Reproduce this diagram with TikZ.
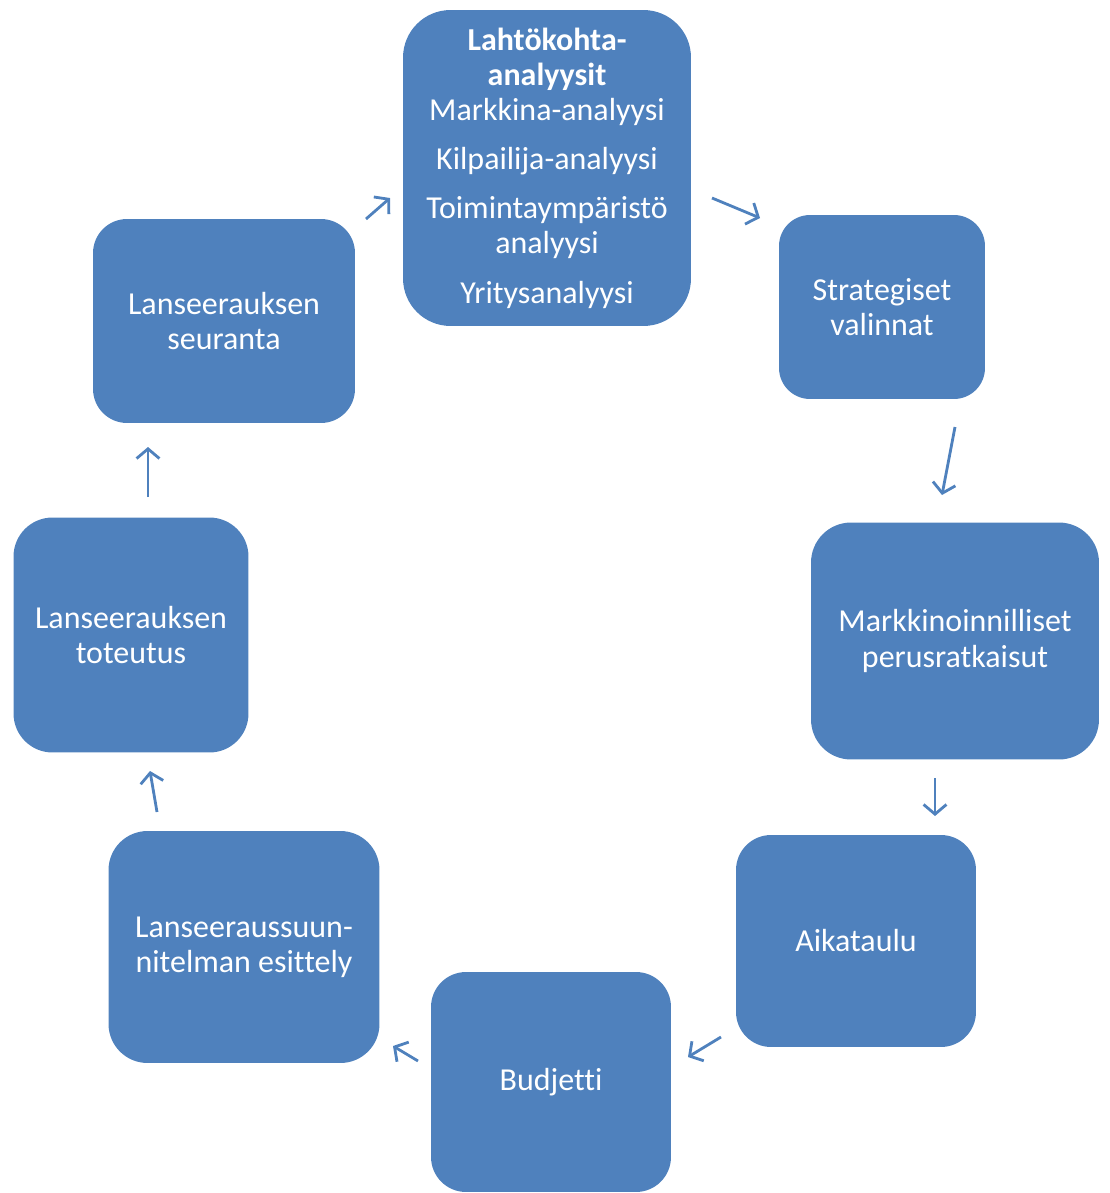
\documentclass[tikz,border=0pt]{standalone}
\usepackage{fontspec}
\setmainfont{Carlito}[Ligatures={NoCommon, NoRare}]
\definecolor{boxblue}{RGB}{79, 129, 189}
\definecolor{arrblue}{RGB}{79, 129, 189}
\usetikzlibrary{arrows.meta, positioning}

\begin{document}
\begin{tikzpicture}[x=0.02cm, y=-0.02cm,
  box/.style={fill=boxblue, draw=none, rounded corners=#1, text=white, align=center,
    inner sep=2pt, font=\fontsize{18.2pt}{20pt}\selectfont},
  box/.default=0.7cm,
  arr/.style={arrblue, line width=1.6pt, -{Straight Barb[length=5.5pt, width=13pt]}},
]
  \useasboundingbox (0, 0) rectangle (1109, 1193);

  % Boxes
  \node[box=0.95cm, minimum width=5.76cm, minimum height=6.32cm] (start) at (547, 168)
    {\textbf{Lahtökohta-}\\\textbf{analyysit}\\Markkina-analyysi\\[8pt]Kilpailija-analyysi\\[8pt]Toimintaympäristö\\analyysi\\[8pt]Yritysanalyysi};
  \node[box=0.62cm, minimum width=4.12cm, minimum height=3.68cm] (strat) at (882, 307) {Strategiset\\valinnat};
  \node[box=0.8cm, minimum width=5.76cm, minimum height=4.74cm] (mark) at (955, 641) {Markkinoinnilliset\\perusratkaisut};
  \node[box, minimum width=4.80cm, minimum height=4.24cm] (aika) at (856, 941) {Aikataulu};
  \node[box, minimum width=4.80cm, minimum height=4.40cm] (budj) at (551, 1082) {Budjetti};
  \node[box=0.78cm, minimum width=5.42cm, minimum height=4.64cm] (esit) at (244, 947) {Lanseeraussuun-\\nitelman esittely};
  \node[box=0.78cm, minimum width=4.70cm, minimum height=4.70cm] (tot) at (131, 635) {Lanseerauksen\\toteutus};
  \node[box=0.68cm, minimum width=5.24cm, minimum height=4.08cm] (seur) at (224, 321) {Lanseerauksen\\seuranta};

  % Arrow ends
  \coordinate (a1s) at (712, 198);  \coordinate (a1e) at (760, 218);
  \coordinate (a2s) at (955, 427);  \coordinate (a2e) at (942, 495);
  \coordinate (a3s) at (935, 778);  \coordinate (a3e) at (935, 816);
  \coordinate (a4s) at (721, 1037); \coordinate (a4e) at (688, 1057);
  \coordinate (a5s) at (418, 1061); \coordinate (a5e) at (393, 1046);
  \coordinate (a6s) at (157, 812);  \coordinate (a6e) at (150, 771);
  \coordinate (a7s) at (148, 497);  \coordinate (a7e) at (148, 447);
  \coordinate (a8s) at (366, 219);  \coordinate (a8e) at (390, 198);

  \draw[arr] (a1s) -- (a1e);
  \draw[arr] (a2s) -- (a2e);
  \draw[arr] (a3s) -- (a3e);
  \draw[arr] (a4s) -- (a4e);
  \draw[arr] (a5s) -- (a5e);
  \draw[arr] (a6s) -- (a6e);
  \draw[arr] (a7s) -- (a7e);
  \draw[arr] (a8s) -- (a8e);
\end{tikzpicture}
\end{document}
